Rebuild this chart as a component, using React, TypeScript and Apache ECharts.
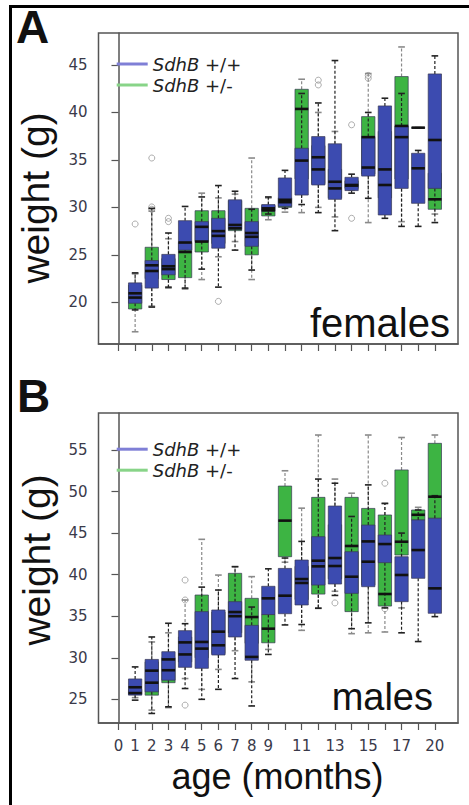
import React, { useEffect, useRef } from "react";
import * as echarts from "echarts";

// ---------- data ----------
const months = ["0", "1", "2", "3", "4", "5", "6", "7", "8", "9", "10", "11", "12", "13", "14", "15", "16", "17", "18", "20"];
const labeledMonths = ["0", "1", "2", "3", "4", "5", "6", "7", "8", "9", "11", "13", "15", "17", "20"];
const boxMonths = ["1", "2", "3", "4", "5", "6", "7", "8", "9", "10", "11", "12", "13", "14", "15", "16", "17", "18", "20"];

const seriesWT = "SdhB +/+";
const seriesHet = "SdhB +/-";

// [min, Q1, median, Q3, max] per month in boxMonths
const femalesWT = [
  [19.2, 19.9, 20.95, 22.05, 23.1],
  [19.5, 21.5, 23.3, 24.4, 29.9],
  [21.6, 22.9, 23.5, 25.05, 27.3],
  [21.5, 25.5, 26.3, 28.6, 30.1],
  [23.5, 26.4, 27.95, 28.5, 31.1],
  [21.6, 25.7, 27.0, 28.85, 32.3],
  [25.5, 27.7, 28.15, 30.8, 31.7],
  [23.4, 25.9, 26.9, 28.5, 29.8],
  [29.3, 29.6, 29.9, 30.3, 31.1],
  [29.9, 30.1, 30.55, 33.1, 33.9],
  [30.3, 31.3, 34.93, 36.23, 42.0],
  [29.45, 32.36, 35.28, 37.46, 41.0],
  [27.55, 30.85, 32.7, 36.7, 45.47],
  [31.5, 31.77, 32.36, 33.17, 33.5],
  [30.96, 33.3, 34.2, 37.46, 40.0],
  [28.85, 29.2, 32.36, 40.69, 41.5],
  [28.0, 32.0, 37.4, 38.58, 42.0],
  [28.0, 30.43, 34.12, 35.7, 36.0],
  [28.4, 32.0, 37.1, 44.06, 45.96],
];
const femalesHet = [
  [16.9, 19.3, 20.5, 21.8, 23.0],
  [19.6, 22.5, 23.9, 25.8, 29.6],
  [21.5, 22.4, 23.8, 24.6, 26.7],
  [21.4, 22.6, 25.3, 26.3, 28.4],
  [22.4, 25.3, 26.4, 29.65, 31.5],
  [24.8, 26.2, 27.5, 29.65, 31.0],
  [26.4, 27.55, 27.8, 30.7, 31.4],
  [22.4, 25.0, 27.3, 29.9, 35.2],
  [28.7, 29.1, 29.7, 30.2, 31.0],
  [29.5, 30.0, 30.8, 31.0, 31.5],
  [29.45, 33.0, 40.37, 42.44, 43.5],
  [30.0, 32.5, 34.0, 36.5, 40.0],
  [29.0, 31.0, 32.0, 34.0, 38.0],
  [31.8, 32.0, 32.3, 32.8, 33.0],
  [28.4, 33.5, 37.4, 39.56, 44.1],
  [29.5, 31.0, 34.0, 38.0, 40.0],
  [28.5, 33.0, 38.58, 43.78, 46.9],
  [38.4, 38.4, 38.4, 38.4, 38.4],
  [29.3, 29.8, 30.85, 33.6, 35.0],
];
const malesWT = [
  [24.9, 25.5, 26.45, 27.45, 28.9],
  [23.3, 25.9, 28.45, 29.8, 32.5],
  [24.1, 27.3, 29.8, 30.73, 34.15],
  [26.3, 28.85, 31.85, 33.26, 34.1],
  [25.0, 28.73, 31.1, 35.55, 38.5],
  [26.2, 30.33, 33.14, 35.75, 38.15],
  [27.5, 32.5, 35.0, 36.75, 40.96],
  [24.2, 29.7, 30.1, 33.9, 36.1],
  [30.4, 35.2, 37.15, 38.6, 40.7],
  [33.95, 35.3, 37.47, 40.75, 42.0],
  [34.0, 36.35, 39.47, 41.76, 44.0],
  [35.95, 38.75, 41.68, 44.57, 51.5],
  [37.5, 38.87, 41.04, 48.26, 51.0],
  [33.5, 37.75, 39.75, 42.76, 47.0],
  [34.2, 38.55, 41.56, 45.97, 50.8],
  [36.0, 41.44, 43.68, 44.77, 48.57],
  [33.0, 36.75, 39.96, 42.16, 45.0],
  [31.95, 39.56, 42.96, 46.58, 47.78],
  [34.95, 35.35, 38.35, 46.78, 49.5],
];
const malesHet = [
  [25.2, 25.6, 25.75, 26.2, 26.8],
  [23.7, 25.5, 27.0, 29.5, 31.9],
  [24.0, 27.0, 28.5, 30.0, 33.0],
  [27.5, 29.5, 30.4, 32.5, 36.95],
  [26.2, 30.0, 31.9, 37.55, 44.25],
  [28.6, 30.5, 31.5, 35.5, 39.95],
  [30.85, 33.0, 35.5, 40.16, 40.96],
  [27.1, 31.74, 34.9, 37.15, 39.76],
  [31.0, 31.8, 33.5, 35.2, 37.0],
  [41.5, 42.16, 46.5, 50.66, 52.5],
  [33.3, 37.0, 39.0, 41.0, 48.0],
  [36.0, 37.66, 41.0, 49.3, 56.8],
  [38.0, 39.5, 42.0, 46.0, 51.5],
  [32.9, 35.55, 43.45, 49.3, 49.8],
  [33.0, 38.75, 44.0, 47.97, 56.8],
  [33.1, 36.22, 37.67, 47.18, 48.57],
  [36.0, 42.36, 43.96, 52.6, 56.5],
  [42.0, 46.58, 47.2, 47.78, 48.1],
  [45.0, 46.78, 49.38, 55.8, 56.8],
];
// [month, value]
const femalesOutliers: [string, number][] = [
  ["1", 28.25], ["2", 35.2], ["2", 29.8], ["2", 30.05], ["3", 28.85], ["3", 28.5],
  ["6", 20.1], ["12", 43.4], ["12", 42.9], ["14", 38.7], ["14", 28.85], ["15", 43.9], ["15", 43.6],
];
const malesOutliers: [string, number][] = [
  ["4", 39.35], ["4", 36.95], ["4", 24.3], ["13", 36.6], ["16", 51.0], ["16", 35.9],
];
const femaleTicks = [20, 25, 30, 35, 40, 45];
const maleTicks = [25, 30, 35, 40, 45, 50, 55];

// ---------- styling ----------
const BLUE = "#3c4bb0";
const GREEN = "#3db443";
const LEG_BLUE = "#7f7fd6";
const LEG_GREEN = "#88d488";
const FRAME = "#555";
const FONT = "Liberation Sans, Arial, sans-serif";
const TICKFONT = "DejaVu Sans, sans-serif";

const idx = (m: string) => months.indexOf(m);

const makeRender = (fill: string, whisk: string, base: number) => (params: any, api: any) => {
  const x = api.value(0);
  const pMin = api.coord([x, api.value(1)]);
  const pQ1 = api.coord([x, api.value(2)]);
  const pMed = api.coord([x, api.value(3)]);
  const pQ3 = api.coord([x, api.value(4)]);
  const pMax = api.coord([x, api.value(5)]);
  const bw = api.size([1, 0])[0] * 0.8;
  const cx = pMed[0];
  const cap = bw * 0.5;
  const dash = { stroke: whisk, lineWidth: 1.2, lineDash: [3, 2] };
  const solid = { stroke: whisk, lineWidth: 1.6 };
  return {
    type: "group",
    children: [
      { type: "line", z2: base, shape: { x1: cx, y1: pQ3[1], x2: cx, y2: pMax[1] }, style: dash },
      { type: "line", z2: base, shape: { x1: cx, y1: pQ1[1], x2: cx, y2: pMin[1] }, style: dash },
      { type: "line", z2: base, shape: { x1: cx - cap / 2, y1: pMax[1], x2: cx + cap / 2, y2: pMax[1] }, style: solid },
      { type: "line", z2: base, shape: { x1: cx - cap / 2, y1: pMin[1], x2: cx + cap / 2, y2: pMin[1] }, style: solid },
      {
        type: "rect",
        z2: base + 1,
        shape: { x: cx - bw / 2, y: pQ3[1], width: bw, height: Math.max(pQ1[1] - pQ3[1], 0.5) },
        style: { fill, stroke: "#3a3a55", lineWidth: 0.7 },
      },
      {
        type: "line",
        z2: 30,
        shape: { x1: cx - bw / 2, y1: pMed[1], x2: cx + bw / 2, y2: pMed[1] },
        style: { stroke: "#111", lineWidth: 2.6 },
      },
    ],
  };
};

const boxData = (arr: number[][]) => boxMonths.map((m, i) => [idx(m), ...arr[i]]);

const xAxisFor = (gridIndex: number, showLabels: boolean) => ({
  type: "value",
  gridIndex,
  min: -1.2,
  max: 20.39,
  axisLine: { show: true, lineStyle: { color: FRAME, width: 1.5 } },
  splitLine: { show: false },
  axisTick: {
    show: true,
    length: 7,
    lineStyle: { color: FRAME, width: 1.2 },
    customValues: months.map((_, i) => i),
  },
  axisLabel: {
    show: showLabels,
    customValues: labeledMonths.map((m) => idx(m)),
    formatter: (v: number) => months[Math.round(v)],
    margin: 17,
    fontSize: 15,
    lineHeight: 12,
    fontFamily: TICKFONT,
    color: "#3a3a4a",
  },
});

const yAxisFor = (gridIndex: number, min: number, max: number, ticks: number[]) => ({
  type: "value",
  gridIndex,
  min,
  max,
  axisLine: { show: true, lineStyle: { color: FRAME, width: 1.5 } },
  splitLine: { show: false },
  axisTick: { show: true, length: 7, lineStyle: { color: FRAME, width: 1.2 }, customValues: ticks },
  axisLabel: { customValues: ticks, margin: 11, fontSize: 15, fontFamily: TICKFONT, color: "#3a3a4a" },
});

const LEGFONT = "DejaVu Sans, sans-serif";
const LEGSIZE = 18;
const legendFor = (top: number, gap: number) => ({
  orient: "vertical",
  left: 116.7,
  top,
  padding: 0,
  itemGap: 0,
  itemWidth: 31,
  itemHeight: 3,
  icon: "rect",
  selectedMode: false,
  data: [
    { name: seriesWT, itemStyle: { color: LEG_BLUE } },
    { name: seriesHet, itemStyle: { color: LEG_GREEN } },
  ],
  formatter: (name: string) => "{i|SdhB}{n|" + name.replace("SdhB", "") + "}",
  textStyle: {
    fontSize: LEGSIZE,
    lineHeight: gap,
    fontFamily: LEGFONT,
    color: "#222",
    rich: {
      i: { fontStyle: "italic", fontSize: LEGSIZE, lineHeight: gap, fontFamily: LEGFONT, color: "#222" },
      n: { fontStyle: "normal", fontSize: LEGSIZE, lineHeight: gap, fontFamily: LEGFONT, color: "#222" },
    },
  },
});

const bigText = (text: string, x: number, y: number, size: number, align: string, extra: any = {}) => ({
  type: "text",
  x,
  y,
  silent: true,
  rotation: extra.rotation || 0,
  style: {
    text,
    fontSize: size,
    lineHeight: Math.round(size * 0.8),
    fontFamily: FONT,
    fontWeight: extra.bold ? "bold" : "normal",
    fill: "#111",
    align,
    verticalAlign: "middle",
  },
});

export default function App() {
  const ref = useRef<HTMLDivElement>(null);
  useEffect(() => {
    if (!ref.current) return;
    const chart = echarts.init(ref.current, undefined, { renderer: "svg" });
    const option: any = {
      animation: false,
      backgroundColor: "#fff",
      grid: [
        { left: 98.5, top: 33, width: 359.5, height: 311, show: true, borderColor: FRAME, borderWidth: 1.5, backgroundColor: "transparent" },
        { left: 98.5, top: 413, width: 359.5, height: 310, show: true, borderColor: FRAME, borderWidth: 1.5, backgroundColor: "transparent" },
      ],
      xAxis: [xAxisFor(0, false), xAxisFor(1, true)],
      yAxis: [yAxisFor(0, 15.61, 48.37, femaleTicks), yAxisFor(1, 22.15, 59.45, maleTicks)],
      legend: [legendFor(53.5, 21), legendFor(438.7, 21)],
      series: [
        {
          type: "custom", name: seriesHet, xAxisIndex: 0, yAxisIndex: 0, z: 2,
          itemStyle: { color: GREEN }, renderItem: makeRender(GREEN, "#8a8a8a", 1),
          encode: { x: 0, y: [1, 2, 3, 4, 5] }, data: boxData(femalesHet),
        },
        {
          type: "custom", name: seriesWT, xAxisIndex: 0, yAxisIndex: 0, z: 2,
          itemStyle: { color: BLUE }, renderItem: makeRender(BLUE, "#222", 5),
          encode: { x: 0, y: [1, 2, 3, 4, 5] }, data: boxData(femalesWT),
        },
        {
          type: "custom", name: seriesHet, xAxisIndex: 1, yAxisIndex: 1, z: 2,
          itemStyle: { color: GREEN }, renderItem: makeRender(GREEN, "#8a8a8a", 1),
          encode: { x: 0, y: [1, 2, 3, 4, 5] }, data: boxData(malesHet),
        },
        {
          type: "custom", name: seriesWT, xAxisIndex: 1, yAxisIndex: 1, z: 2,
          itemStyle: { color: BLUE }, renderItem: makeRender(BLUE, "#222", 5),
          encode: { x: 0, y: [1, 2, 3, 4, 5] }, data: boxData(malesWT),
        },
        {
          type: "scatter", name: "outliers A", xAxisIndex: 0, yAxisIndex: 0, z: 1,
          symbol: "circle", symbolSize: 6,
          itemStyle: { color: "rgba(255,255,255,0)", borderColor: "#999", borderWidth: 1 },
          data: femalesOutliers.map(([m, v]) => [idx(m), v]),
        },
        {
          type: "scatter", name: "outliers B", xAxisIndex: 1, yAxisIndex: 1, z: 1,
          symbol: "circle", symbolSize: 6,
          itemStyle: { color: "rgba(255,255,255,0)", borderColor: "#999", borderWidth: 1 },
          data: malesOutliers.map(([m, v]) => [idx(m), v]),
        },
      ],
      graphic: [
        { type: "rect", shape: { x: 9, y: 5, width: 460, height: 3 }, style: { fill: "#000" }, silent: true },
        { type: "rect", shape: { x: 9, y: 5, width: 3, height: 800 }, style: { fill: "#000" }, silent: true },
        bigText("A", 16, 27, 46, "left", { bold: true }),
        bigText("B", 17, 396, 46, "left", { bold: true }),
        bigText("females", 450, 323, 40, "right"),
        bigText("males", 433, 697, 38, "right"),
        bigText("age (months)", 277.5, 776, 36, "center"),
        bigText("weight (g)", 35, 198, 39, "center", { rotation: Math.PI / 2 }),
        bigText("weight (g)", 36, 560, 39, "center", { rotation: Math.PI / 2 }),
      ],
    };
    chart.setOption(option);
    return () => chart.dispose();
  }, []);
  return (
    <div
      ref={ref}
      style={{ position: "absolute", left: 0, top: 0, width: 469, height: 805, background: "#fff" }}
    />
  );
}
